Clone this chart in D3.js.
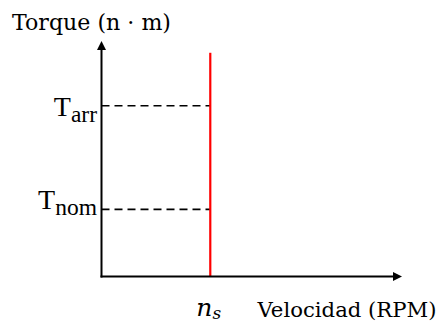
<!DOCTYPE html>
<html>
<head>
<meta charset="utf-8">
<script src="https://cdn.jsdelivr.net/npm/d3@7"></script>
<style>
  html, body { margin: 0; padding: 0; background: #fff; }
  svg { display: block; }
</style>
</head>
<body>
<svg id="chart" width="443" height="321"></svg>
<script>
// ---- data ----
const axisTitles = ["Torque (n · m)", "Velocidad (RPM)"];
const torqueSymbols = ["T", "T"];
const torqueSubs = ["arr", "nom"];
const torqueValues = [7.25, 2.85];          // arranque, nominal (relative units)
const speedSymbol = "n";
const speedSub = "s";
const speedValue = 3.62;                   // synchronous speed (relative units)
const redLineTop = 9.5;
const axisMax = 10;

// ---- layout ----
const x = d3.scaleLinear().domain([0, axisMax]).range([101.5, 402]);
const y = d3.scaleLinear().domain([0, axisMax]).range([276.5, 41]);

const svg = d3.select("#chart");
const serif = "'DejaVu Serif', 'Liberation Serif', serif";

// dashed guides
svg.append("g").selectAll("line").data(torqueValues).join("line")
  .attr("x1", x(0)).attr("x2", x(speedValue))
  .attr("y1", d => y(d)).attr("y2", d => y(d))
  .attr("stroke", "#000").attr("stroke-width", 1.7)
  .attr("stroke-dasharray", "8,5");

// red vertical line at n_s
svg.append("line")
  .attr("x1", x(speedValue)).attr("x2", x(speedValue))
  .attr("y1", y(0)).attr("y2", y(redLineTop))
  .attr("stroke", "#ff0000").attr("stroke-width", 2.2);

// axes
const ah = 9, aw = 4.5;
svg.append("line")
  .attr("x1", x(0)).attr("x2", x(0))
  .attr("y1", y(0) + 1).attr("y2", y(axisMax) + ah - 1)
  .attr("stroke", "#000").attr("stroke-width", 2);
svg.append("line")
  .attr("x1", x(0) - 1).attr("x2", x(axisMax) - ah + 1)
  .attr("y1", y(0)).attr("y2", y(0))
  .attr("stroke", "#000").attr("stroke-width", 2);
svg.append("path")
  .attr("d", `M${x(0)},${y(axisMax)} L${x(0) - aw},${y(axisMax) + ah} L${x(0) + aw},${y(axisMax) + ah} Z`)
  .attr("fill", "#000");
svg.append("path")
  .attr("d", `M${x(axisMax)},${y(0)} L${x(axisMax) - ah},${y(0) - aw} L${x(axisMax) - ah},${y(0) + aw} Z`)
  .attr("fill", "#000");

// torque labels
const labelDy = [10.5, 0];
const tl = svg.append("g").selectAll("text").data(torqueValues).join("text")
  .attr("x", x(0) - 4.5)
  .attr("y", (d, i) => y(d) + labelDy[i])
  .attr("text-anchor", "end")
  .attr("font-family", "'Liberation Serif', serif")
  .attr("fill", "#000");
tl.append("tspan").attr("font-size", 28).text((d, i) => torqueSymbols[i]);
tl.append("tspan").attr("font-size", 23.5).attr("dy", 5.5).text((d, i) => torqueSubs[i]);

// y axis title
svg.append("text")
  .attr("x", 12).attr("y", 30)
  .attr("font-family", serif).attr("font-size", 22)
  .attr("textLength", 159).attr("lengthAdjust", "spacingAndGlyphs")
  .text(axisTitles[0]);

// x axis title
svg.append("text")
  .attr("x", 257.5).attr("y", 316.5)
  .attr("font-family", serif).attr("font-size", 21)
  .attr("textLength", 179).attr("lengthAdjust", "spacingAndGlyphs")
  .text(axisTitles[1]);

// n_s label
const ns = svg.append("text")
  .attr("x", x(speedValue) - 14).attr("y", 315.5)
  .attr("font-family", serif).attr("font-style", "italic").attr("fill", "#000");
ns.append("tspan").attr("font-size", 25).text(speedSymbol);
ns.append("tspan").attr("font-size", 17).attr("dy", 3).text(speedSub);
</script>
</body>
</html>
